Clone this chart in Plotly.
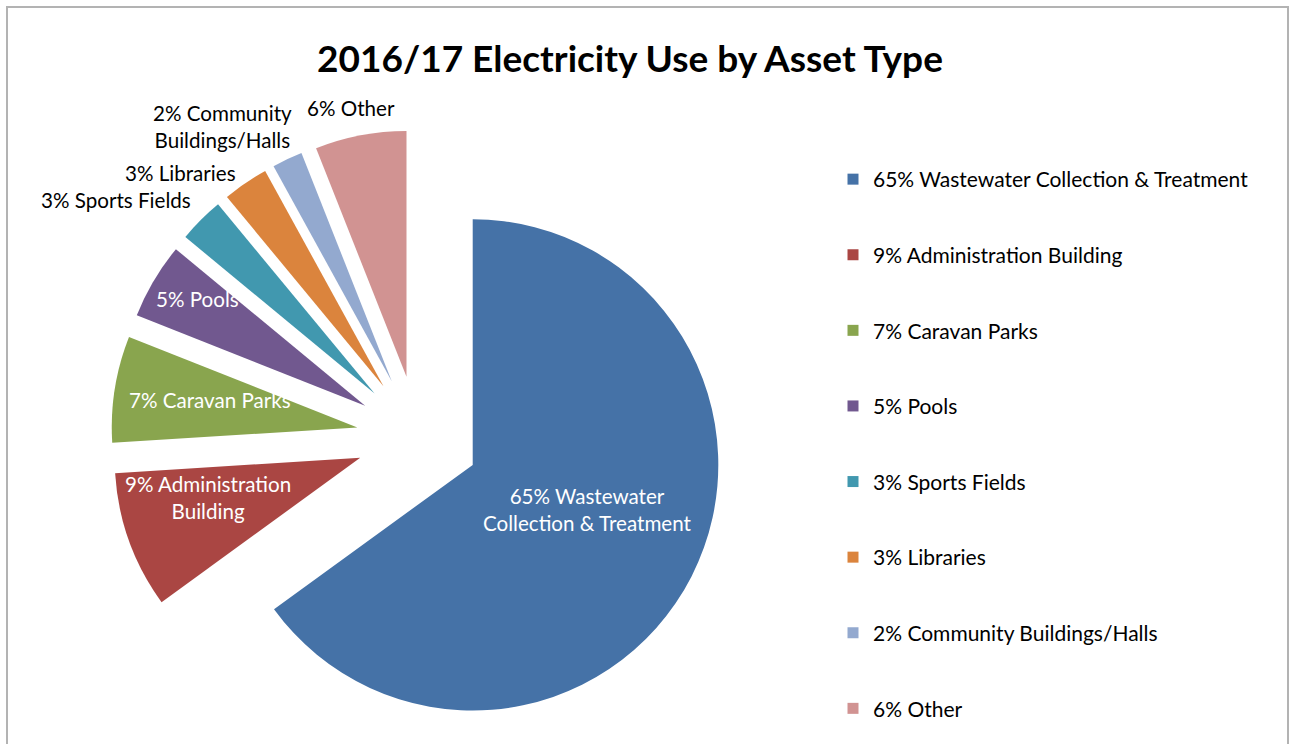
import plotly.graph_objects as go

# ---- data ----
categories = ["Wastewater Collection & Treatment", "Administration Building", "Caravan Parks",
              "Pools", "Sports Fields", "Libraries", "Community Buildings/Halls", "Other"]
shares = [65, 9, 7, 5, 3, 3, 2, 6]
colors = ["#4572A7", "#AA4643", "#89A54E", "#71588F", "#4198AF", "#DB843D", "#93A9CF", "#D19392"]
legend_labels = [f"{v}% {c}" for v, c in zip(shares, categories)]
slice_labels = ["65% Wastewater<br>Collection & Treatment", "9% Administration<br>Building",
                "7% Caravan Parks", "5% Pools", "3% Sports Fields", "3% Libraries",
                "2% Community<br>Buildings/Halls", "6% Other"]
inside = [True, True, True, True, False, False, False, False]

W, H = 1293, 744
FONT = "Lato"
FS_LABEL = 20.6
FS_LEGEND = 21

# label anchor positions in pixels (text placement only)
label_px = [(587, 510), (208, 498), (210, 400), (197, 299),
            (116, 200), (180, 173), (222, 127), (351, 108)]

cx, cy, half = 418, 437, 307

fig = go.Figure()
fig.add_trace(go.Pie(
    labels=legend_labels, values=shares, sort=False, direction="clockwise", rotation=0,
    marker=dict(colors=colors, line=dict(width=0)),
    pull=[0.25] * len(shares), textinfo="none", hoverinfo="label+percent",
    showlegend=False,
    domain=dict(x=[(cx - half) / W, (cx + half) / W], y=[1 - (cy + half) / H, 1 - (cy - half) / H]),
))

# legend entries (one group per category so spacing can be set)
for i, (lab, col) in enumerate(zip(legend_labels, colors)):
    fig.add_trace(go.Scatter(x=[None], y=[None], mode="markers", name=lab,
                             legendgroup=f"g{i}",
                             marker=dict(symbol="square", size=11, color=col),
                             hoverinfo="skip"))

annotations = []
for lab, (px, py), ins in zip(slice_labels, label_px, inside):
    annotations.append(dict(
        text=lab, x=px / W, y=1 - py / H, xref="paper", yref="paper",
        xanchor="center", yanchor="middle", showarrow=False, align="center",
        font=dict(family=FONT, size=FS_LABEL, color="white" if ins else "black"),
    ))

fig.update_layout(
    width=W, height=H,
    margin=dict(l=0, r=0, t=0, b=0),
    paper_bgcolor="white", plot_bgcolor="white",
    title=dict(text="<b>2016/17 Electricity Use by Asset Type</b>", x=630 / W, xanchor="center",
               y=1 - 59 / H, yanchor="middle",
               font=dict(family=FONT, size=37, color="black")),
    xaxis=dict(visible=False), yaxis=dict(visible=False),
    showlegend=True,
    legend=dict(x=833 / W, y=1 - 159 / H, xanchor="left", yanchor="top",
                traceorder="grouped", tracegroupgap=45.3,
                font=dict(family=FONT, size=FS_LEGEND, color="black"),
                bgcolor="rgba(0,0,0,0)"),
    annotations=annotations,
    shapes=[dict(type="rect", xref="paper", yref="paper", x0=7 / W, x1=1288 / W,
                 y0=-0.05, y1=1 - 7 / H, line=dict(color="#B3B3B3", width=2))],
)

fig.write_html("out.html", config={"displayModeBar": False},
               post_script="document.body.style.margin='0';document.body.style.padding='0';"
                           "document.body.style.overflow='hidden';")
